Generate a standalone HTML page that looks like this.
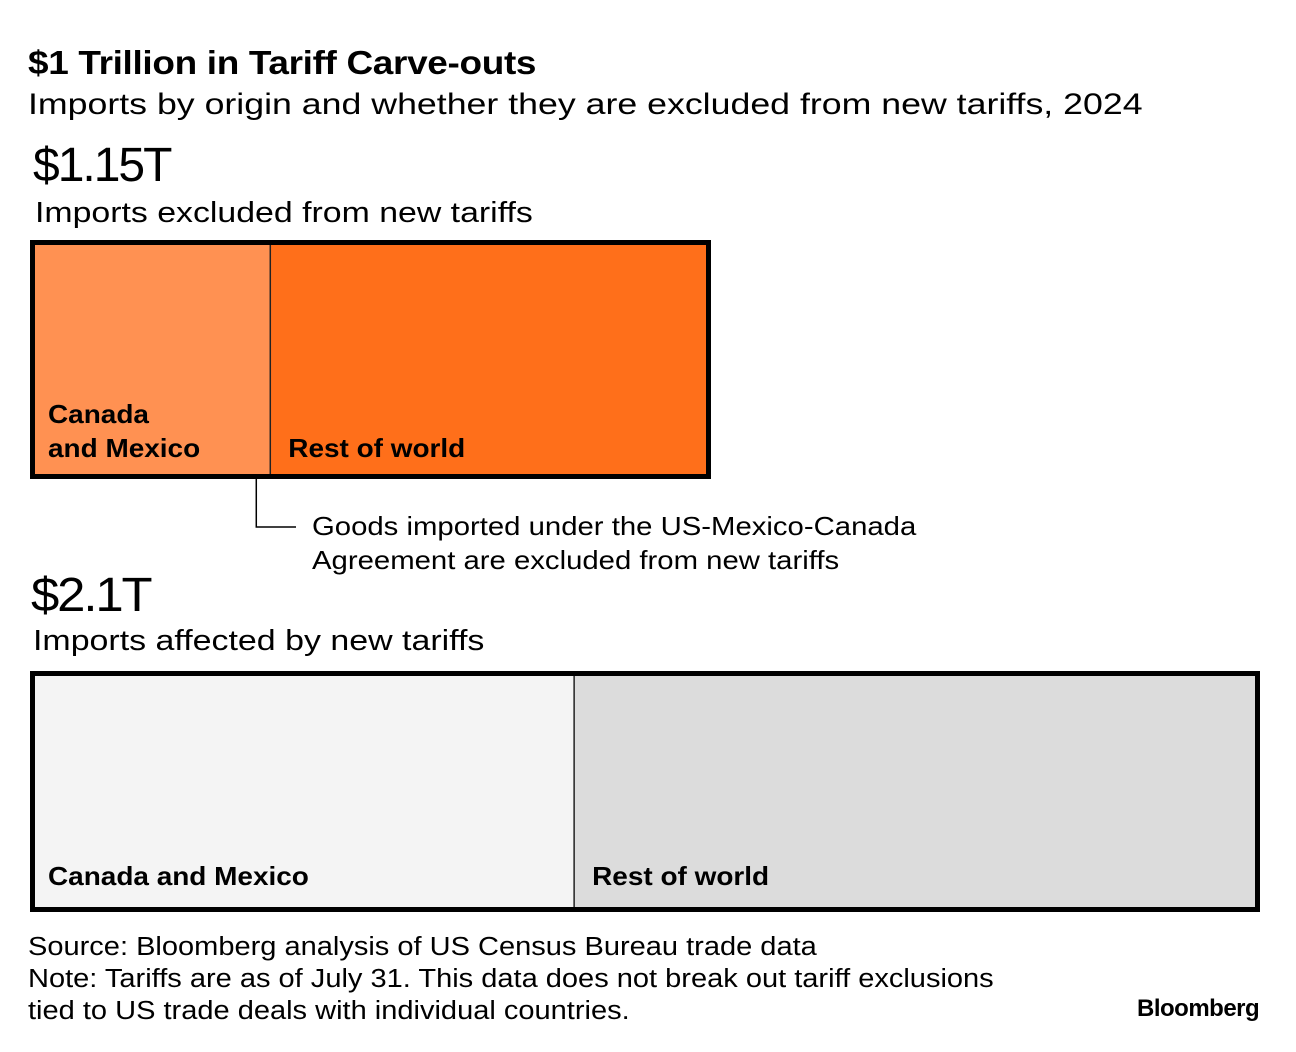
<!DOCTYPE html>
<html><head><meta charset="utf-8"><style>
body{margin:0;width:1296px;height:1052px;background:#fff;font-family:"Liberation Sans",sans-serif;color:#000;position:relative;overflow:hidden}
.t{position:absolute;white-space:nowrap;transform-origin:0 0}
</style></head><body>
<div class="t" style="left:28px;top:44px;font-size:33px;font-weight:bold;letter-spacing:-0.3px;transform:scaleX(1.12)">$1 Trillion in Tariff Carve-outs</div>
<div class="t" style="left:28px;top:88px;font-size:30px;transform:scaleX(1.19)">Imports by origin and whether they are excluded from new tariffs, 2024</div>
<div class="t" style="left:33px;top:138px;font-size:48px;letter-spacing:-2px">$1.15T</div>
<div class="t" style="left:35px;top:197px;font-size:29px;transform:scaleX(1.167)">Imports excluded from new tariffs</div>
<div class="t" style="left:312px;top:509px;font-size:26px;line-height:34px;transform:scaleX(1.127)">Goods imported under the US-Mexico-Canada<br>Agreement are excluded from new tariffs</div>
<div class="t" style="left:31px;top:568px;font-size:48px;letter-spacing:-2px;transform:scaleX(1.06)">$2.1T</div>
<div class="t" style="left:33px;top:625px;font-size:29px;transform:scaleX(1.17)">Imports affected by new tariffs</div>
<svg id="chart" width="1296" height="1052" style="position:absolute;left:0;top:0"></svg>
<div class="t" style="left:28px;top:931px;font-size:25.5px;line-height:32px;transform:scaleX(1.138)">Source: Bloomberg analysis of US Census Bureau trade data<br>Note: Tariffs are as of July 31. This data does not break out tariff exclusions<br>tied to US trade deals with individual countries.</div>
<div class="t" style="left:1137px;top:995px;font-size:24px;font-weight:bold;letter-spacing:-0.5px">Bloomberg</div>
<script>
const groups = ["excluded","affected"];
const categories = ["Canada and Mexico","Rest of world"];
const excludedValues = [0.405, 0.75];
const affectedValues = [0.928, 1.172];
const NS="http://www.w3.org/2000/svg";
const svg=document.getElementById('chart');
const pxPerT = 1220/2.1;
function x(v){return v*pxPerT;}
function mk(t,a){const e=document.createElementNS(NS,t);for(const k in a)e.setAttribute(k,a[k]);svg.appendChild(e);return e;}
function drawBar(vals, left, top, h, colors, labels, gname){
  let cx=left; const total=vals.reduce((a,b)=>a+b,0);
  vals.forEach((v,i)=>{
    const w=x(v);
    const r=mk('rect',{x:cx,y:top,width:w,height:h,fill:colors[i]});
    
    
    if(i>0){const l=mk('line',{x1:cx,y1:top,x2:cx,y2:top+h,stroke:'#222','stroke-width':1.5});
      
      }
    const off = i===0 ? 13 : 18;
    labels[i].forEach((ln,j)=>{
      const ty = top+h-(h>230?22:17)-(labels[i].length-1-j)*34;
      const t=mk('text',{x:0,y:0,transform:`translate(${cx+off},${ty}) scale(1.075,1)`,'font-size':26,'font-weight':'bold','font-family':'Liberation Sans, sans-serif'});
      t.textContent=ln;
      
      
    });
    cx+=w;
  });
  const b=mk('rect',{x:left-2.5,y:top-2.5,width:x(total)+5,height:h+5,fill:'none',stroke:'#000','stroke-width':5});
  
  
}
drawBar(excludedValues,35,245,229,['#FF9152','#FF6F1A'],[["Canada","and Mexico"],["Rest of world"]],'excluded-bar');
drawBar(affectedValues,35,676,231,['#F4F4F4','#DCDCDC'],[["Canada and Mexico"],["Rest of world"]],'affected-bar');
const cxl=35+x(excludedValues[0])-14;
const c=mk('path',{d:`M${cxl} 479 V527 H296`,fill:'none',stroke:'#000','stroke-width':1.5});


</script>
</body></html>
